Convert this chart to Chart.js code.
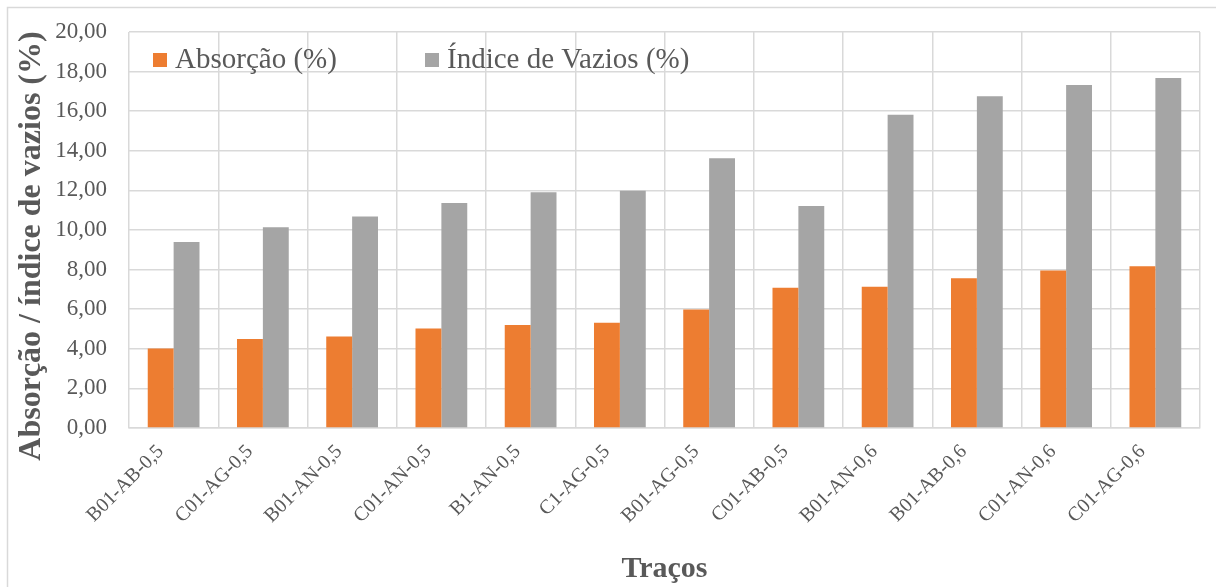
<!DOCTYPE html>
<html>
<head>
<meta charset="utf-8">
<script src="https://cdn.jsdelivr.net/npm/chart.js@4/dist/chart.umd.min.js"></script>
<style>
  html, body { margin: 0; padding: 0; background: #ffffff; }
  #wrap { position: relative; width: 1216px; height: 587px; overflow: hidden; }
  canvas { display: block; }
</style>
</head>
<body>
<div id="wrap"><canvas id="chart" width="1216" height="587"></canvas></div>
<script>
// Mix designs (traços)
const tracos = [
  'B01-AB-0,5', 'C01-AG-0,5', 'B01-AN-0,5', 'C01-AN-0,5', 'B1-AN-0,5', 'C1-AG-0,5',
  'B01-AG-0,5', 'C01-AB-0,5', 'B01-AN-0,6', 'B01-AB-0,6', 'C01-AN-0,6', 'C01-AG-0,6'
];

// Water absorption (%)
const absorcao = [4.02, 4.50, 4.62, 5.02, 5.20, 5.32, 5.99, 7.08, 7.13, 7.56, 7.95, 8.17];

// Void ratio (%)
const indiceVazios = [9.39, 10.14, 10.68, 11.36, 11.91, 11.98, 13.62, 11.21, 15.82, 16.75, 17.32, 17.68];

const seriesNames = ['Absorção (%)', 'Índice de Vazios (%)'];
const yAxisTitle = 'Absorção / índice de vazios (%)';
const xAxisTitle = 'Traços';

const FONT = "'Liberation Serif', 'Times New Roman', serif";
const TEXT = '#595959';
const GRID = '#d9d9d9';

// Outer chart frame
const framePlugin = {
  id: 'frame',
  beforeDraw(chart) {
    const ctx = chart.ctx;
    ctx.save();
    ctx.fillStyle = '#ffffff';
    ctx.fillRect(0, 0, chart.width, chart.height);
    ctx.strokeStyle = GRID;
    ctx.lineWidth = 1.5;
    ctx.strokeRect(7.5, 7.5, chart.width + 20, chart.height + 20);
    ctx.restore();
  }
};

// Vertical axis title, centred a little below the plot's middle
const yTitlePlugin = {
  id: 'yTitle',
  afterDraw(chart) {
    const ctx = chart.ctx;
    const area = chart.chartArea;
    ctx.save();
    ctx.translate(32, (area.top + area.bottom) / 2 + 16);
    ctx.rotate(-Math.PI / 2);
    ctx.font = 'bold 32px ' + FONT;
    ctx.fillStyle = TEXT;
    ctx.textAlign = 'center';
    ctx.textBaseline = 'middle';
    ctx.fillText(yAxisTitle, 0, 0);
    ctx.restore();
  }
};

// Legend drawn inside the plot area, top-left
const insideLegend = {
  id: 'insideLegend',
  afterDraw(chart) {
    const ctx = chart.ctx;
    const area = chart.chartArea;
    const itemX = [area.left + 24, area.left + 296];
    ctx.save();
    ctx.font = '29px ' + FONT;
    ctx.textBaseline = 'alphabetic';
    ctx.textAlign = 'left';
    chart.data.datasets.forEach((ds, i) => {
      const x = itemX[i];
      ctx.fillStyle = ds.backgroundColor;
      ctx.fillRect(x, area.top + 21, 14, 14);
      ctx.fillStyle = TEXT;
      ctx.fillText(ds.label, x + 22, area.top + 36);
    });
    ctx.restore();
  }
};

const fmt = v => Number(v).toFixed(2).replace('.', ',');

new Chart(document.getElementById('chart'), {
  type: 'bar',
  data: {
    labels: tracos,
    datasets: [
      { label: seriesNames[0], data: absorcao, backgroundColor: '#ED7D31', borderWidth: 0 },
      { label: seriesNames[1], data: indiceVazios, backgroundColor: '#A5A5A5', borderWidth: 0 }
    ]
  },
  options: {
    responsive: false,
    devicePixelRatio: 1,
    animation: false,
    layout: { padding: { top: 32, right: 16, left: 0, bottom: 0 } },
    datasets: { bar: { categoryPercentage: 0.58, barPercentage: 1.0 } },
    plugins: {
      legend: { display: false },
      tooltip: { enabled: false }
    },
    scales: {
      x: {
        grid: { color: GRID, lineWidth: 1.5, drawTicks: false, offset: true },
        border: { color: GRID, width: 1.5 },
        ticks: {
          color: TEXT,
          font: { family: FONT, size: 20 },
          minRotation: 45, maxRotation: 45,
          autoSkip: false,
          padding: 12,
          labelOffset: -13
        },
        title: {
          display: true,
          text: xAxisTitle,
          color: TEXT,
          font: { family: FONT, size: 30, weight: 'bold' },
          padding: { top: 0, bottom: 0 }
        },
        afterFit(scale) { scale.height = 159; }
      },
      y: {
        min: 0, max: 20,
        grid: { color: GRID, lineWidth: 1.5, drawTicks: true, tickLength: 19, tickColor: 'rgba(0,0,0,0)' },
        border: { display: false },
        ticks: {
          stepSize: 2,
          color: TEXT,
          font: { family: FONT, size: 23 },
          padding: 3,
          callback: v => fmt(v)
        },
        afterFit(scale) { scale.width = 129; }
      }
    }
  },
  plugins: [framePlugin, yTitlePlugin, insideLegend]
});
</script>
</body>
</html>
